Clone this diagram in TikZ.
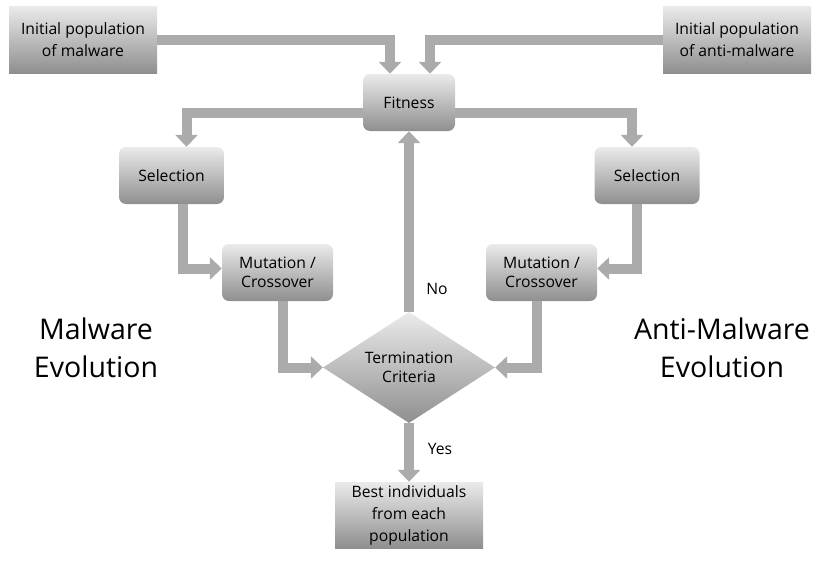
\documentclass[tikz,border=0pt]{standalone}
\usepackage{fontspec}
\setmainfont{Open Sans}
\usetikzlibrary{arrows.meta,shapes.geometric}
\tikzset{
	box/.style={draw=none, top color=black!8, bottom color=black!44, align=center, inner sep=0pt, font=\fontsize{15.7}{22}\selectfont},
	rbox/.style={box, rounded corners=7pt, font=\fontsize{15.7}{19}\selectfont},
	band/.style={line width=10pt, color=black!33, -{Triangle[width=22pt,length=12pt]}},
	tag/.style={font=\fontsize{15.7}{19}\selectfont},
	bigtag/.style={align=center, font=\fontsize{28.5}{38}\selectfont}
}

\begin{document}
\begin{tikzpicture}[x=1pt, y=-1pt]
			%%%%% START %%%%%
			\useasboundingbox (0, 0) rectangle (822, 562);
			
			\node[box, minimum width=148pt, minimum height=67pt] (initmal) at (83, 39.5) {Initial population\\of malware};
			\node[box, minimum width=148pt, minimum height=67pt] (initanti) at (737, 39.5) {Initial population\\of anti-malware};
			
			\node[rbox, minimum width=92pt, minimum height=57pt] (fit) at (409, 102.5) {Fitness};
			
			\node[rbox, minimum width=105pt, minimum height=57pt] (selmal) at (171.5, 175.5) {Selection};
			\node[rbox, minimum width=105pt, minimum height=57pt] (selanti) at (647, 175.5) {Selection};
			
			\node[rbox, minimum width=111pt, minimum height=57pt] (mutmal) at (277.5, 272.5) {Mutation /\\Crossover};
			\node[rbox, minimum width=111pt, minimum height=57pt] (mutanti) at (541.5, 272.5) {Mutation /\\Crossover};
			
			\node[box, diamond, aspect=1.55, minimum width=172pt, minimum height=111pt, font=\fontsize{15.7}{19}\selectfont] (term) at (409, 367.5) {Termination\\Criteria};
			
			\node[box, minimum width=148pt, minimum height=66pt] (best) at (409, 515) {Best individuals\\from each\\population};
			
			\node[bigtag] (evomal) at (96, 348) {Malware\\Evolution};
			\node[bigtag] (evoanti) at (722, 348) {Anti-Malware\\Evolution};
			
			\draw[band] (initmal.east) -| ([xshift=-19pt]fit.north);
			\draw[band] (initanti.west) -| ([xshift=21pt]fit.north);
			\draw[band] ([yshift=-10pt]fit.west) -| ([xshift=15pt]selmal.north);
			\draw[band] ([yshift=-10pt]fit.east) -| ([xshift=-15pt]selanti.north);
			\draw[band] ([xshift=11pt]selmal.south) |- ([yshift=4pt]mutmal.west);
			\draw[band] ([xshift=-10pt]selanti.south) |- ([yshift=4pt]mutanti.east);
			\draw[band] ([xshift=5pt]mutmal.south) |- (term.west);
			\draw[band] ([xshift=-5pt]mutanti.south) |- (term.east);
			\draw[band] (term.north) -- (fit.south);
			\draw[band] (term.south) -- (best.north);
			
			\node[tag] (no) at (437, 289) {No};
			\node[tag] (yes) at (440, 449) {Yes};
			%%%%% END %%%%%
\end{tikzpicture}
\end{document}
